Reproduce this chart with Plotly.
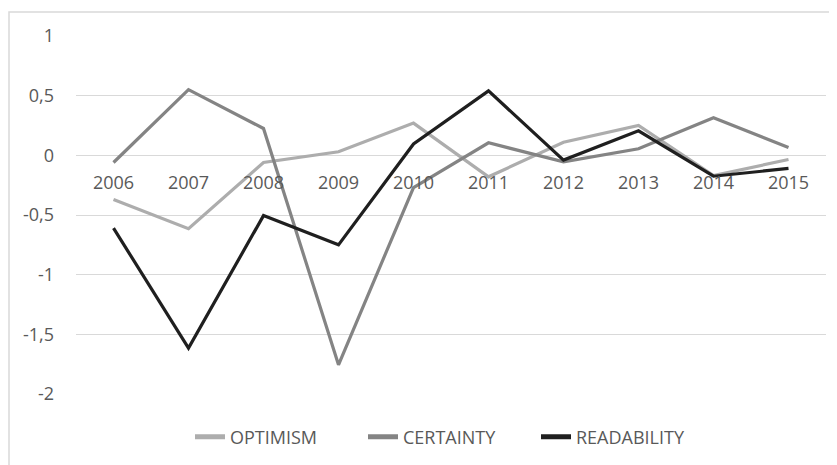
import plotly.graph_objects as go

years = ["2006", "2007", "2008", "2009", "2010", "2011", "2012", "2013", "2014", "2015"]
optimism = [-0.37, -0.615, -0.06, 0.03, 0.27, -0.18, 0.11, 0.25, -0.17, -0.035]
certainty = [-0.06, 0.55, 0.225, -1.755, -0.27, 0.105, -0.055, 0.055, 0.315, 0.065]
readability = [-0.61, -1.615, -0.505, -0.75, 0.095, 0.54, -0.04, 0.205, -0.175, -0.11]

y_ticks = [1, 0.5, 0, -0.5, -1, -1.5, -2]
y_tick_text = ["1", "0,5", "0", "-0,5", "-1", "-1,5", "-2"]

series = [
    ("OPTIMISM", optimism, "#adadad"),
    ("CERTAINTY", certainty, "#848484"),
    ("READABILITY", readability, "#1f1f1f"),
]

FONT = "Open Sans"
TXT = "#595959"

fig = go.Figure()
for name, vals, col in series:
    fig.add_trace(go.Scatter(
        x=years, y=vals, name=name, mode="lines",
        line=dict(color=col, width=3.2),
    ))

# page has an 8px body margin; figure is sized so it fits the window exactly
fig.update_layout(
    width=829, height=457,
    margin=dict(l=68, r=11, t=28, b=71, autoexpand=False),
    paper_bgcolor="white", plot_bgcolor="white",
    font=dict(family=FONT, size=18, color=TXT),
    showlegend=True,
    legend=dict(
        orientation="h", x=114 / 750, xanchor="left",
        y=(394 - 437) / 358, yanchor="middle",
        font=dict(family=FONT, size=18, color=TXT),
        entrywidth=128, entrywidthmode="pixels",
        tracegroupgap=0, itemsizing="constant",
    ),
    xaxis=dict(
        type="category", range=[-0.5, 9.5],
        anchor="free", position=2/3, automargin=False,
        showgrid=False, showline=False, zeroline=False,
        ticks="", ticklabelstandoff=15,
        tickfont=dict(family=FONT, size=18, color=TXT),
    ),
    yaxis=dict(
        range=[-2, 1], automargin=False,
        tickvals=y_ticks, ticktext=y_tick_text,
        showgrid=True, gridcolor="#d9d9d9", gridwidth=1,
        zeroline=False, showline=False, ticks="",
        ticklabelstandoff=21,
        tickfont=dict(family=FONT, size=18, color=TXT),
    ),
    shapes=[
        dict(type="rect", xref="paper", yref="paper",
             x0=(9 - 76) / 750, x1=(845 - 76) / 750,
             y0=(394 - 475) / 358, y1=(394 - 12) / 358,
             line=dict(color="#d9d9d9", width=1.5), layer="below"),
    ],
)

fig.write_html("out.html")
